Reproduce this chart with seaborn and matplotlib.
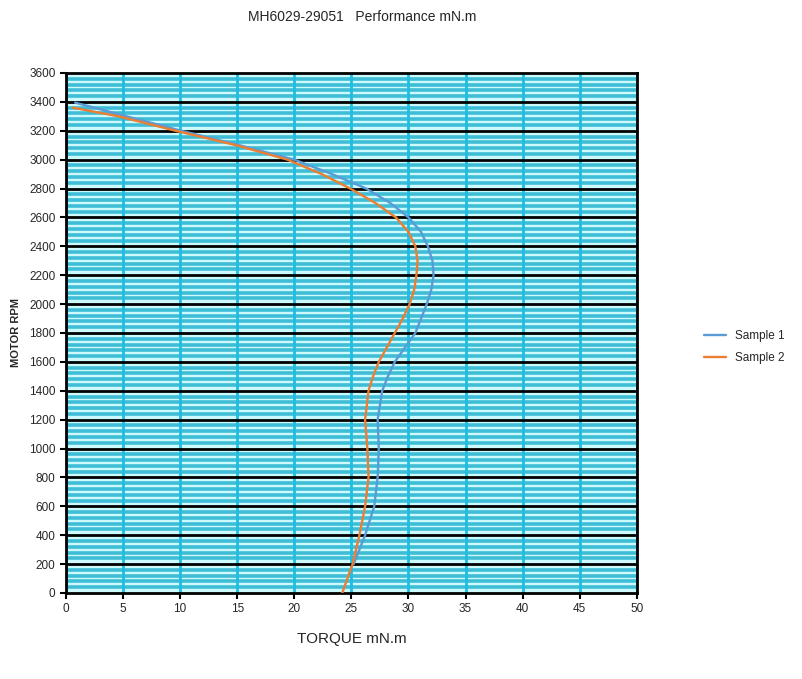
import pandas as pd
import matplotlib
matplotlib.use("Agg")
import matplotlib.pyplot as plt
import seaborn as sns
from matplotlib.ticker import MultipleLocator

# values
rpm_s1 = [3395, 3300, 3200, 3100, 3000, 2900, 2800, 2700, 2600, 2500, 2400, 2300, 2200,
          2100, 2000, 1900, 1800, 1700, 1600, 1500, 1400, 1200, 1000, 800, 600, 400, 200]
torque_s1 = [0.8, 5.3, 10.1, 15.2, 20.0, 23.3, 26.3, 28.4, 30.0, 31.1, 31.7, 32.1, 32.2,
             32.0, 31.6, 31.1, 30.6, 29.7, 28.8, 28.2, 27.7, 27.3, 27.4, 27.3, 27.0, 26.2, 25.2]

rpm_s2 = [3360, 3300, 3200, 3100, 3000, 2900, 2800, 2700, 2600, 2500, 2400, 2300, 2200,
          2100, 2000, 1900, 1800, 1700, 1600, 1500, 1400, 1200, 1000, 800, 600, 400, 200, 0]
torque_s2 = [0.6, 4.6, 9.6, 14.9, 19.4, 22.4, 24.9, 27.1, 28.9, 30.0, 30.6, 30.8, 30.7,
             30.5, 30.1, 29.5, 28.8, 28.1, 27.4, 26.9, 26.5, 26.2, 26.4, 26.5, 26.2, 25.7, 25.1, 24.2]

SERIES = ["Sample 1", "Sample 2"]
COLORS = ["#5b9bd5", "#ed7d31"]

df = pd.concat([
    pd.DataFrame({"torque": torque_s1, "rpm": rpm_s1, "series": SERIES[0]}),
    pd.DataFrame({"torque": torque_s2, "rpm": rpm_s2, "series": SERIES[1]}),
])

sns.set_style("white")
plt.rcParams["font.family"] = ["Liberation Sans", "DejaVu Sans"]

fig = plt.figure(figsize=(8.02, 6.79), dpi=100)
ax = fig.add_axes([0.0823, 0.1267, 0.7117, 0.7658])
ax.set_facecolor("#ccfaff")

sns.lineplot(data=df, x="torque", y="rpm", hue="series", palette=COLORS,
             sort=False, estimator=None, linewidth=1.7, ax=ax)
for line in ax.get_lines():
    line.set_zorder(3)

ax.set_xlim(0, 50)
ax.set_ylim(0, 3600)
ax.xaxis.set_major_locator(MultipleLocator(5))
ax.yaxis.set_major_locator(MultipleLocator(200))
ax.yaxis.set_minor_locator(MultipleLocator(40))

# grid order: cyan minor rows, then cyan columns, then black major rows
ax.grid(False)
ax.yaxis.grid(True, which="minor", color="#3fbcd6", linewidth=2.6)
ax.xaxis.grid(True, which="major", color="#1fbde3", linewidth=2)
ax.yaxis.set_zorder(0.3)
ax.xaxis.set_zorder(0.6)
for y in ax.get_yticks():
    if 0 < y < 3600:
        ax.axhline(y, color="black", linewidth=2, zorder=0.8)

for s in ax.spines.values():
    s.set_color("black")
    s.set_linewidth(2)

ax.tick_params(axis="both", which="major", direction="out", length=4, width=1.5,
               color="black", labelsize=8.5, left=True, bottom=True)
ax.tick_params(axis="y", which="minor", length=0)

ax.set_xlabel("TORQUE mN.m", fontsize=11, labelpad=12)
ax.set_ylabel("MOTOR RPM", fontsize=8, fontweight="bold", labelpad=6)
fig.text(0.452, 0.975, "MH6029-29051   Performance mN.m", ha="center", va="center",
         fontsize=10)

leg = ax.legend(loc="center left", bbox_to_anchor=(1.1, 0.473), frameon=False,
                fontsize=8.5, handlelength=1.8, labelspacing=0.8)
for line in leg.get_lines():
    line.set_linewidth(1.7)

fig.savefig("out.png", dpi=100)
